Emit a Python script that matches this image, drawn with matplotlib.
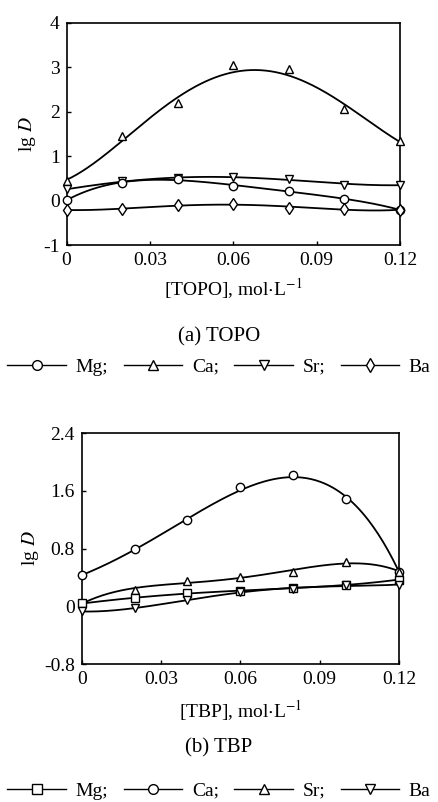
import numpy as np
import matplotlib
matplotlib.use("Agg")
import matplotlib.pyplot as plt
from matplotlib.lines import Line2D

plt.rcParams['font.family'] = ['Liberation Serif', 'DejaVu Sans']
plt.rcParams['mathtext.fontset'] = 'stix'

conc = [0, 0.02, 0.04, 0.06, 0.08, 0.10, 0.12]

# (a) TOPO
topo_mg = [0.01, 0.40, 0.48, 0.33, 0.21, 0.04, -0.21]
topo_ca = [0.45, 1.46, 2.20, 3.05, 2.96, 2.05, 1.33]
topo_sr = [0.25, 0.44, 0.50, 0.52, 0.49, 0.36, 0.35]
topo_ba = [-0.21, -0.19, -0.11, -0.08, -0.16, -0.19, -0.21]

# (b) TBP
tbp_mg = [0.04, 0.11, 0.19, 0.21, 0.25, 0.30, 0.37]
tbp_ca = [0.43, 0.80, 1.19, 1.65, 1.82, 1.48, 0.48]
tbp_sr = [0.04, 0.23, 0.35, 0.40, 0.47, 0.62, 0.48]
tbp_ba = [-0.07, -0.03, 0.09, 0.20, 0.24, 0.29, 0.30]

xticks = [0, 0.03, 0.06, 0.09, 0.12]
xticklabels = ['0', '0.03', '0.06', '0.09', '0.12']
yticks_a = [-1, 0, 1, 2, 3, 4]
yticklabels_a = ['-1', '0', '1', '2', '3', '4']
yticks_b = [-0.8, 0, 0.8, 1.6, 2.4]
yticklabels_b = ['-0.8', '0', '0.8', '1.6', '2.4']


def draw(ax, series):
    xs = np.linspace(0, 0.12, 200)
    for ys, m, w in series:
        c = np.polyfit(conc, ys, 4, w=w)
        ax.plot(xs, np.polyval(c, xs), color='black', lw=1.3, zorder=2)
        ax.plot(conc, ys, linestyle='none', marker=m, ms=6, mfc='white',
                mec='black', mew=1.0, zorder=3, clip_on=False)


def style(ax, yt, ytl, ylim):
    ax.set_xlim(0, 0.12)
    ax.set_ylim(*ylim)
    ax.set_xticks(xticks)
    ax.set_xticklabels(xticklabels)
    ax.set_yticks(yt)
    ax.set_yticklabels(ytl)
    ax.tick_params(direction='in', length=3, width=1, labelsize=14, pad=5)
    for s in ax.spines.values():
        s.set_linewidth(1.2)


def legend(markers, y):
    h = [Line2D([], [], color='black', lw=1, marker=m, ms=7, mfc='white', mec='black')
         for m in markers]
    fig.legend(h, ['Mg;', 'Ca;', 'Sr;', 'Ba'], loc='center', bbox_to_anchor=(0.5, y),
               ncol=4, frameon=False, fontsize=14, handlelength=3.0, handletextpad=0.5,
               columnspacing=0.8, borderpad=0)


fig = plt.figure(figsize=(4.38, 8.02), dpi=100)

even = [1] * 7
ax1 = fig.add_axes([0.152, 0.6945, 0.761, 0.2772])
draw(ax1, [(topo_ca, '^', [2, 1.5, 1.8, 1, 1, 1.2, 2]), (topo_sr, 'v', even),
           (topo_mg, 'o', even), (topo_ba, 'd', even)])
style(ax1, yticks_a, yticklabels_a, (-1, 4))
ax1.set_xlabel(r'[TOPO], mol$\cdot$L$^{-1}$', fontsize=14, labelpad=5)
ax1.set_ylabel(r'lg $D$', fontsize=14, labelpad=4)

fig.text(0.5, 0.5798, '(a) TOPO', ha='center', va='center', fontsize=15)
legend(['o', '^', 'v', 'd'], 0.5424)

ax2 = fig.add_axes([0.1865, 0.172, 0.7244, 0.288])
draw(ax2, [(tbp_ca, 'o', [3, 2, 2, 1, 1, 1, 3]), (tbp_sr, '^', even),
           (tbp_mg, 's', even), (tbp_ba, 'v', even)])
style(ax2, yticks_b, yticklabels_b, (-0.8, 2.4))
ax2.set_xlabel(r'[TBP], mol$\cdot$L$^{-1}$', fontsize=14, labelpad=7)
ax2.set_ylabel(r'lg $D$', fontsize=14, labelpad=2)

fig.text(0.5, 0.0673, '(b) TBP', ha='center', va='center', fontsize=15)
legend(['s', 'o', '^', 'v'], 0.014)

fig.savefig('out.png', dpi=100)
